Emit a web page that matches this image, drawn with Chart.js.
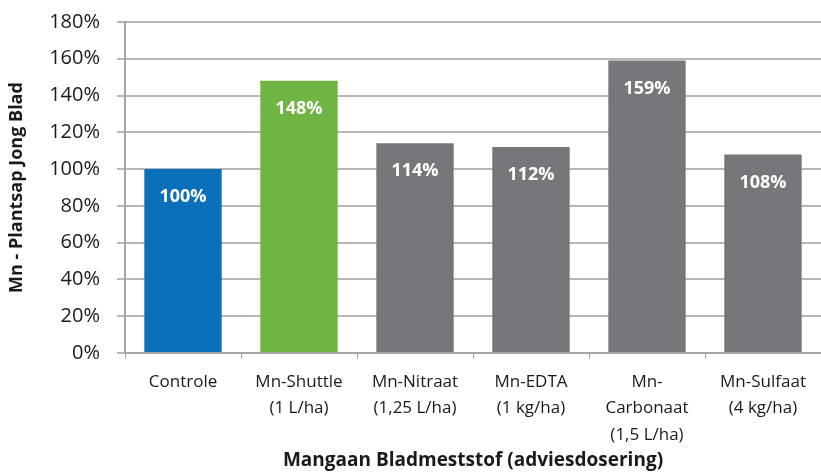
<!DOCTYPE html>
<html>
<head>
<meta charset="utf-8">
<script src="https://cdn.jsdelivr.net/npm/chart.js@4"></script>
<style>
  html, body { margin: 0; padding: 0; background: #fff; }
  #wrap { width: 821px; height: 472px; }
</style>
</head>
<body>
<div id="wrap"><canvas id="mn_chart" width="821" height="472"></canvas></div>
<script>
// Mn plantsap data
const categories = [
  ['Controle'],
  ['Mn-Shuttle', '(1 L/ha)'],
  ['Mn-Nitraat', '(1,25 L/ha)'],
  ['Mn-EDTA', '(1 kg/ha)'],
  ['Mn-', 'Carbonaat', '(1,5 L/ha)'],
  ['Mn-Sulfaat', '(4 kg/ha)']
];
const values = [100, 148, 114, 112, 159, 108];
const barColors = ['#0b70ba', '#70b443', '#77777b', '#77777b', '#77777b', '#77777b'];
const yTicks = [0, 20, 40, 60, 80, 100, 120, 140, 160, 180];

const fontFam = "'Open Sans', 'Liberation Sans', sans-serif";

// white labels inside the bar tops
const barLabels = {
  id: 'barLabels',
  afterDatasetsDraw(chart) {
    const ctx = chart.ctx;
    const meta = chart.getDatasetMeta(0);
    ctx.save();
    ctx.fillStyle = '#ffffff';
    ctx.font = 'bold 18px ' + fontFam;
    ctx.textAlign = 'center';
    ctx.textBaseline = 'middle';
    meta.data.forEach(function(bar, i) {
      ctx.fillText(values[i] + '%', bar.x, bar.y + 28);
    });
    ctx.restore();
  }
};

new Chart(document.getElementById('mn_chart'), {
  type: 'bar',
  data: {
    labels: categories,
    datasets: [{
      data: values,
      backgroundColor: barColors,
      categoryPercentage: 1,
      barPercentage: 0.667
    }]
  },
  options: {
    responsive: false,
    animation: false,
    layout: { padding: { top: 22, right: 0, left: 0, bottom: 0 } },
    plugins: {
      legend: { display: false },
      tooltip: { enabled: false }
    },
    scales: {
      x: {
        grid: {
          display: true,
          drawOnChartArea: false,
          offset: true,
          color: '#a6a6a6',
          tickLength: 6
        },
        border: { color: '#a6a6a6', width: 2 },
        ticks: {
          color: '#1a1a1a',
          font: { family: fontFam, size: 17, lineHeight: 1.55 },
          maxRotation: 0,
          autoSkip: false,
          padding: 10
        },
        title: {
          display: true,
          text: 'Mangaan Bladmeststof (adviesdosering)',
          color: '#1a1a1a',
          font: { family: fontFam, size: 19, weight: 'bold' },
          padding: { top: 0, bottom: 0 }
        },
        afterFit(scale) { scale.height = 119; scale.paddingLeft = 0; scale.paddingRight = 0; }
      },
      y: {
        min: 0,
        max: 180,
        afterBuildTicks(scale) {
          scale.ticks = yTicks.map(function(v) { return { value: v }; });
        },
        grid: {
          color: '#b7b7b7',
          lineWidth: 2,
          tickLength: 8
        },
        border: { color: '#a6a6a6', width: 2 },
        ticks: {
          color: '#1a1a1a',
          font: { family: fontFam, size: 20 },
          padding: 17,
          callback: function(v) { return v + '%'; }
        },
        title: {
          display: true,
          text: 'Mn - Plantsap Jong Blad',
          color: '#1a1a1a',
          font: { family: fontFam, size: 18, weight: 'bold' },
          padding: { top: 6, bottom: 0 }
        },
        afterFit(scale) { scale.width = 125; scale.paddingTop = 0; scale.paddingBottom = 0; }
      }
    }
  },
  plugins: [barLabels]
});
</script>
</body>
</html>
